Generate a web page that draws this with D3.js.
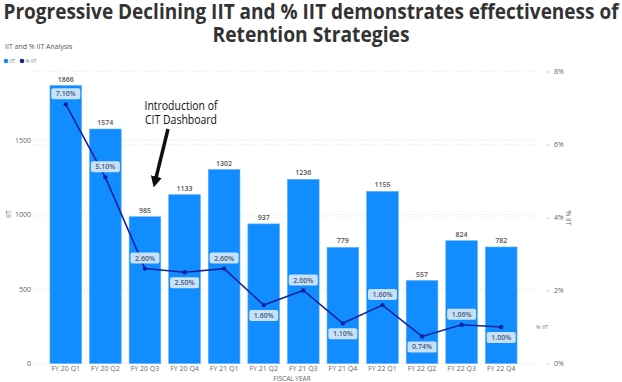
<!DOCTYPE html>
<html>
<head>
<meta charset="utf-8">
<script src="https://d3js.org/d3.v7.min.js"></script>
<style>
  body { margin: 0; background: #fff; }
  text { font-family: "Open Sans", sans-serif; }
  .tick-lbl { font-size: 7px; fill: #666; }
</style>
</head>
<body>
<div id="chart"></div>
<script>
// data
const quarters = ["FY 20 Q1", "FY 20 Q2", "FY 20 Q3", "FY 20 Q4", "FY 21 Q1", "FY 21 Q2",
                  "FY 21 Q3", "FY 21 Q4", "FY 22 Q1", "FY 22 Q2", "FY 22 Q3", "FY 22 Q4"];
const iit = [1866, 1574, 985, 1133, 1302, 937, 1236, 779, 1155, 557, 824, 782];
const pctIit = [7.10, 5.10, 2.60, 2.50, 2.60, 1.60, 2.00, 1.10, 1.60, 0.74, 1.06, 1.00];
// label above (1) or below (-1) the point
const pctLabelSide = [1, 1, 1, -1, 1, -1, 1, -1, 1, -1, 1, -1];
const leftTicks = [0, 500, 1000, 1500];
const rightTicks = [0, 2, 4, 6, 8];

const W = 622, H = 382;
const svg = d3.select("#chart").append("svg")
  .attr("width", W).attr("height", H);

// title
const title = svg.append("g").attr("font-weight", 700).attr("fill", "#333");
title.append("text").attr("x", 311).attr("y", 19).attr("text-anchor", "middle")
  .attr("font-size", 21.5).attr("textLength", 615).attr("lengthAdjust", "spacingAndGlyphs")
  .text("Progressive Declining IIT and % IIT demonstrates effectiveness of");
title.append("text").attr("x", 311).attr("y", 42).attr("text-anchor", "middle")
  .attr("font-size", 21.5).attr("textLength", 197).attr("lengthAdjust", "spacingAndGlyphs")
  .text("Retention Strategies");

// visual header + legend
svg.append("text").attr("x", 5).attr("y", 49).attr("font-size", 7).attr("fill", "#555")
  .text("IIT and % IIT Analysis");
const legend = svg.append("g").attr("transform", "translate(6,61)");
legend.append("circle").attr("r", 2.3).attr("fill", "#118DFF");
legend.append("text").attr("x", 3.5).attr("y", 2).attr("font-size", 5).attr("fill", "#777").text("IIT");
legend.append("circle").attr("cx", 16).attr("r", 2.3).attr("fill", "#12239E");
legend.append("text").attr("x", 19.5).attr("y", 2).attr("font-size", 5).attr("fill", "#777").text("% IIT");

// scales
const x = d3.scaleBand().domain(quarters).range([46, 521]).paddingInner(0.2).paddingOuter(0.1);
const yL = d3.scaleLinear().domain([0, 1960]).range([363.5, 71.5]);
const yR = d3.scaleLinear().domain([0, 8]).range([363.5, 71.5]);

// gridlines
svg.append("g").selectAll("line").data(leftTicks).join("line")
  .attr("x1", 33).attr("x2", 535).attr("y1", d => yL(d)).attr("y2", d => yL(d))
  .attr("stroke", "#e4e4e4").attr("stroke-width", 0.8).attr("stroke-dasharray", "1.5 1.5");
svg.append("g").selectAll("line").data(rightTicks).join("line")
  .attr("x1", 33).attr("x2", 535).attr("y1", d => yR(d)).attr("y2", d => yR(d))
  .attr("stroke", "#eeeeee").attr("stroke-width", 0.8).attr("stroke-dasharray", "1.5 1.5");

// left axis
const axL = svg.append("g").attr("transform", "translate(31,0)")
  .call(d3.axisLeft(yL).tickValues(leftTicks).tickFormat(d3.format("d")).tickSize(0).tickPadding(0));
axL.select(".domain").remove();
axL.selectAll("text").attr("class", "tick-lbl").attr("font-family", null).attr("font-size", null);

// right axis
const axR = svg.append("g").attr("transform", "translate(546,0)")
  .call(d3.axisRight(yR).tickValues(rightTicks).tickFormat(d => d + "%").tickSize(3).tickPadding(5));
axR.select(".domain").remove();
axR.selectAll("line").attr("stroke", "#ccc");
axR.selectAll("text").attr("class", "tick-lbl").attr("font-family", null).attr("font-size", null);

// axis titles
svg.append("text").attr("transform", "translate(11,214) rotate(-90)").attr("text-anchor", "middle")
  .attr("class", "tick-lbl").text("IIT");
svg.append("text").attr("transform", "translate(566,218) rotate(90)").attr("text-anchor", "middle")
  .attr("class", "tick-lbl").text("% IIT");

// x axis
const axX = svg.append("g").attr("transform", `translate(0,${yL(0)})`)
  .call(d3.axisBottom(x).tickSize(0).tickPadding(3));
axX.select(".domain").remove();
axX.selectAll("text").attr("class", "tick-lbl").attr("font-family", null).attr("font-size", "6.5px")
  .attr("fill", "#555");
svg.append("text").attr("x", 292).attr("y", 381).attr("text-anchor", "middle")
  .attr("class", "tick-lbl").style("font-size", "6.5px").text("FISCAL YEAR");

// bars
svg.append("g").selectAll("rect").data(iit).join("rect")
  .attr("x", (d, i) => x(quarters[i]))
  .attr("y", d => yL(d))
  .attr("width", x.bandwidth())
  .attr("height", d => yL(0) - yL(d))
  .attr("fill", "#118DFF")
  .attr("stroke", "#5aaeff").attr("stroke-width", 0.6);

svg.append("g").selectAll("text").data(iit).join("text")
  .attr("x", (d, i) => x(quarters[i]) + x.bandwidth() / 2)
  .attr("y", d => yL(d) - 4)
  .attr("text-anchor", "middle").attr("font-size", 7).attr("font-weight", 600).attr("fill", "#555")
  .text(d => d);

// line
const cx = i => x(quarters[i]) + x.bandwidth() / 2;
svg.append("path")
  .datum(pctIit)
  .attr("fill", "none").attr("stroke", "#12239E").attr("stroke-width", 1.6)
  .attr("d", d3.line().x((d, i) => cx(i)).y(d => yR(d)));
svg.append("g").selectAll("circle").data(pctIit).join("circle")
  .attr("cx", (d, i) => cx(i)).attr("cy", d => yR(d)).attr("r", 2.2).attr("fill", "#12239E");

// line labels
const pl = svg.append("g").selectAll("g").data(pctIit).join("g")
  .attr("transform", (d, i) => `translate(${cx(i)},${yR(d) - pctLabelSide[i] * 10.5})`);
pl.append("rect").attr("x", -14.5).attr("y", -5.5).attr("width", 29).attr("height", 11).attr("rx", 2)
  .attr("fill", "#d6e8f7").attr("fill-opacity", 0.92);
pl.append("text").attr("y", 2.5).attr("text-anchor", "middle").attr("font-size", 7)
  .attr("font-weight", 600).attr("fill", "#4a5a78")
  .text(d => d.toFixed(2) + "%");

// series label at end of line
svg.append("text").attr("x", 536).attr("y", 329).attr("font-size", 5.5).attr("fill", "#777")
  .text("% IIT");

// annotation
svg.append("defs").append("marker").attr("id", "ah").attr("viewBox", "0 0 10 10")
  .attr("refX", 5).attr("refY", 5).attr("markerWidth", 3.2).attr("markerHeight", 4)
  .attr("orient", "auto")
  .append("path").attr("d", "M0,0 L10,5 L0,10 z").attr("fill", "#111");
svg.append("line").attr("x1", 168).attr("y1", 129).attr("x2", 155).attr("y2", 182)
  .attr("stroke", "#111").attr("stroke-width", 3.5).attr("marker-end", "url(#ah)");
const ann = svg.append("g").attr("font-size", 12).attr("font-weight", 500).attr("fill", "#111")
  .attr("text-anchor", "middle");
ann.append("text").attr("x", 181).attr("y", 110).attr("textLength", 73).attr("lengthAdjust", "spacingAndGlyphs")
  .text("Introduction of");
ann.append("text").attr("x", 181).attr("y", 124).attr("textLength", 72).attr("lengthAdjust", "spacingAndGlyphs")
  .text("CIT Dashboard");
</script>
</body>
</html>
